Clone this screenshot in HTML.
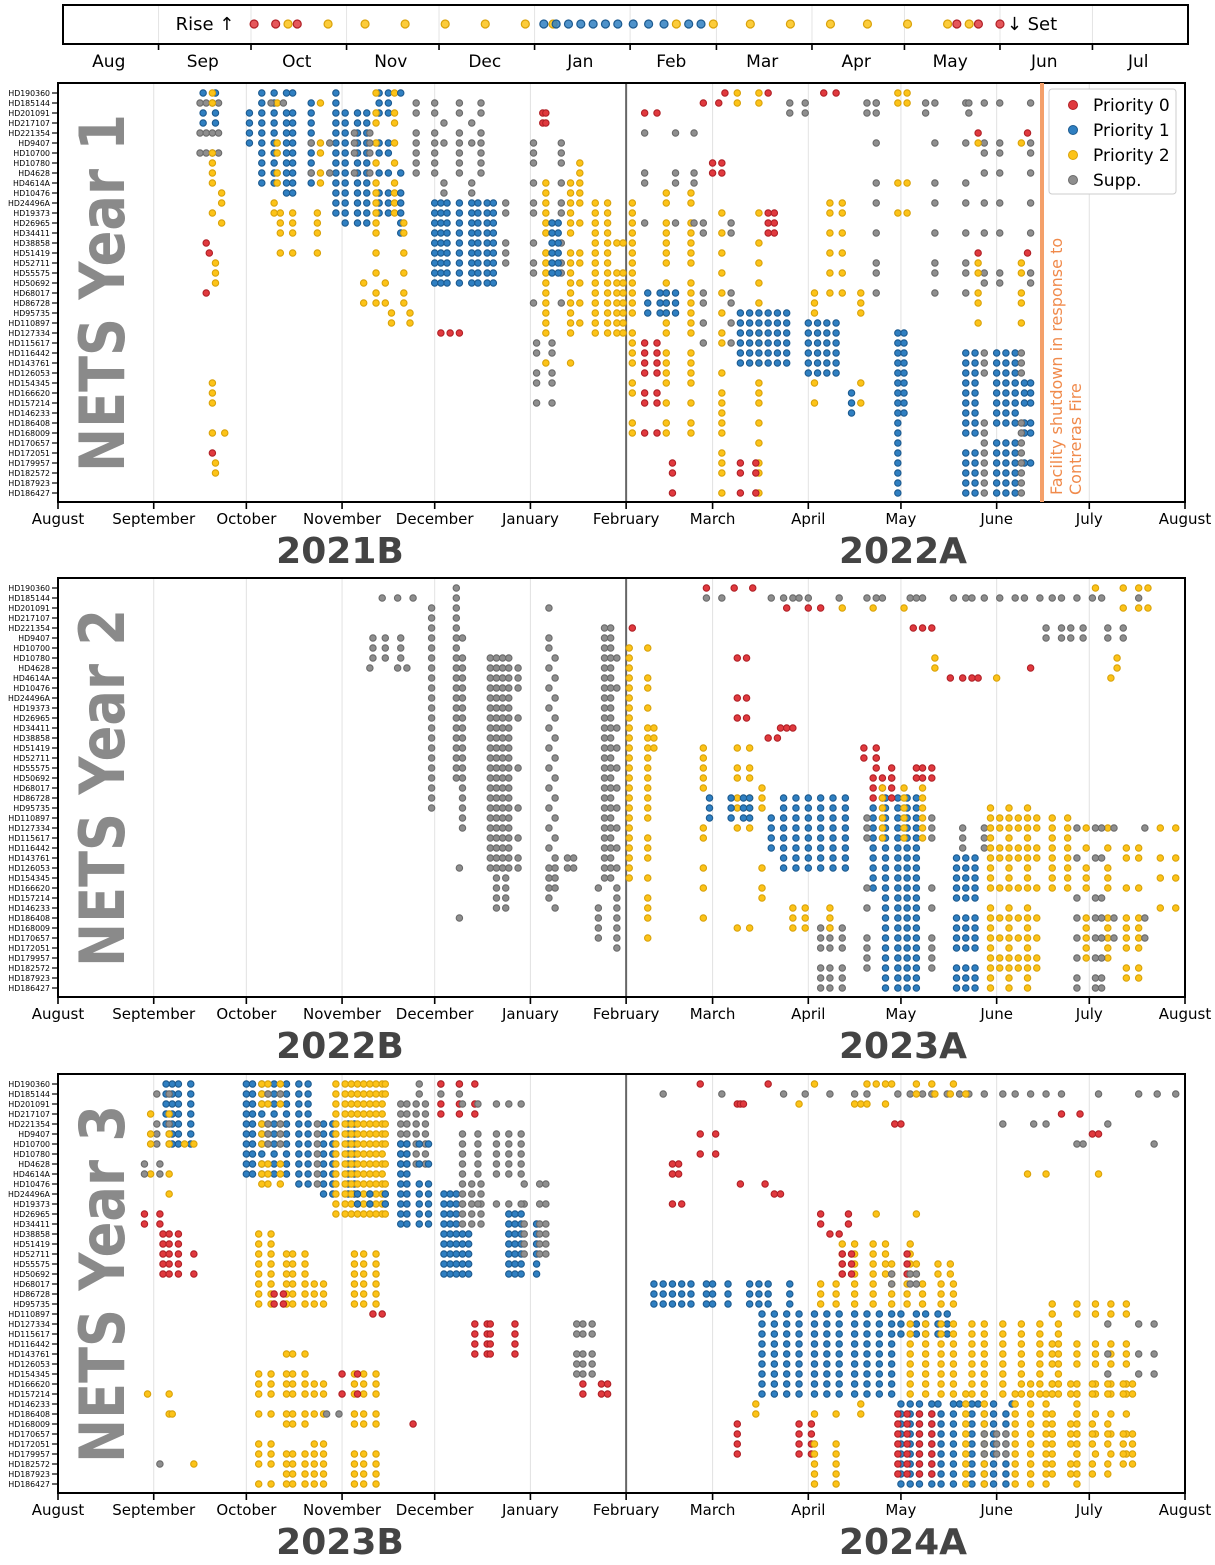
<!DOCTYPE html>
<html><head><meta charset="utf-8">
<style>
html,body{margin:0;padding:0;background:#fff;}
svg{display:block;font-family:"DejaVu Sans","Liberation Sans",sans-serif;}
</style></head>
<body>
<svg id="chart" width="1215" height="1565" viewBox="0 0 1215 1565" xmlns="http://www.w3.org/2000/svg"></svg>
<script>
// ---------- data ----------
const stars = ["HD190360","HD185144","HD201091","HD217107","HD221354","HD9407","HD10700","HD10780","HD4628","HD4614A","HD10476","HD24496A","HD19373","HD26965","HD34411","HD38858","HD51419","HD52711","HD55575","HD50692","HD68017","HD86728","HD95735","HD110897","HD127334","HD115617","HD116442","HD143761","HD126053","HD154345","HD166620","HD157214","HD146233","HD186408","HD168009","HD170657","HD172051","HD179957","HD182572","HD187923","HD186427"];
const axisMonths = ["August","September","October","November","December","January","February","March","April","May","June","July","August"];
const monthStartDays = [0,31,61,92,122,153,184,212,243,273,304,334,365];
const stripMonths = ["Aug","Sep","Oct","Nov","Dec","Jan","Feb","Mar","Apr","May","Jun","Jul"];
const panelTitles = ["NETS Year 1","NETS Year 2","NETS Year 3"];
const semesterLabels = [["2021B","2022A"],["2022B","2023A"],["2023B","2024A"]];
const priorityNames = ["Priority 0","Priority 1","Priority 2","Supp."];
// top strip: [day, priority]
const stripDots = [[62,0],[69,0],[73,2],[76,0],[86,2],[98,2],[111,2],[124,2],[137,2],[150,2],[156,1],[159,2],[160,1],[164,1],[168,1],[172,1],[176,1],[180,1],[185,1],[190,1],[195,1],[199,2],[203,1],[207,1],[211,2],[223,2],[236,2],[249,2],[261,2],[274,2],[287,2],[290,0],[294,2],[297,0],[304,0]];
// observation groups: [[rows],[days since Aug 1],priority]
const blocks1 = [
[[1,4,6],[46,48,50,52],3],[[0,2,3],[47,51],1],[[0,1,6,7,8,9,12],[50],2],[[10,11,13],[53],2],[[15,20],[48],0],[[16],[49],0],
[[17,18,19],[51],2],[[29,30,31,34],[50],2],[[34],[54],2],[[36],[50],0],[[37,38],[51],2],
[[0,1,2,3,4,5,6,7,8,9],[66,70],1],[[2,3,4,5],[62],1],[[0,2,3,4,5,6,7,8,9,10],[74,76],1],[[1,2,3,4,5,6,7,8,9],[82],1],
[[0,1,2,3,4,5,6,7,8,9,10,11,12],[90],1],[[1,5,6,8,9],[71,85],2],[[12,13,14,16],[72,76,84],2],[[11,12],[70],2],[[5,8],[82,88],3],[[1],[69,73],3],
[[2,3,4,5,6,7,8,9,10,11,12,13],[93,97,100],1],[[0,1,2,5,6,8,10,11,12],[104,107],1],[[0,2,3,5,7,9,10,11,12],[103,109],2],
[[0,8,10,11,12,13,14],[111],1],[[4,5,6,8],[96,101],3],[[13,14,16,18,20,21],[103,112],2],[[22,23],[108,114],2],[[19,21],[99,106],2],
[[1,2,4,5,6,7,8],[116,122,130,137],3],[[3,5,9,10],[125,134],3],[[11,12,15,16,17],[145],3],
[[11,12,13,14,15,16,17,18,19],[122,124,126,130,134,136,139,141],1],[[24],[124,127,130],0],
[[9,10,11,12,13,14,16,17,18,19,20,21,22,23,24,27],[158,166],2],[[11,12,13,14,15,16,17,18,19,20,21,22,23,24],[174,178],2],
[[15,18,19,20,21,22,23,24],[181,183],2],[[5,6,7,9,11,12,15,17,18,21],[154,163],3],[[2,3],[157,158],0],
[[7,8,9,10,11,13,16,17,19,21,23],[169],2],[[25,26,28,29,31],[155,160],3],[[13,14,15,16,17,18],[160,162],1],
[[11,12,13,14,15,16,17,18,19,20,21,22,24,25,26,27,29,30,33,34],[186],2],
[[10,11,13,14,15,16,17,19,20,21,22,23,24,26,27,28,29,31,33,34],[197,205],2],[[2,25,26,27,28,30,31,34],[190,194],0],
[[20,21,22],[191,195,197,200],1],[[4,8,9,13],[190,200,206],3],
[[12,14,16,18,20,22,24,25,28,30,31,32,33,34,36,37,38,40],[215],2],[[12,15,17,19,21,24,25,27,29,30,31,33,35,37,38,40],[227],2],
[[22,23,24,25,26,27],[221,224,227,230,233,236],1],[[13,14,20,21,23,25],[209,218],3],[[37,38,40],[199,221,226],0],[[7,8],[212,215],0],[[12,13,14],[230,232],0],
[[23,24,25,26,27,28],[243,246,249,252],1],[[20,21,22,29,31],[245,260],2],[[30,31,32],[257],1],[[11,12,14,16,18,20],[250,254],2],
[[24,25,26,27,28,29,30,31,32,33,34,35,36,37,38,39,40],[272],1],[[24,25,26,27,28,29,30,31,32],[274],1],[[0,1,9,12],[272,275],2],[[1,5,9,11,14,17,18,20],[265,284,294],3],
[[26,27,28,29,30,31,32,33,34,36,37,38,39,40],[294,297],1],[[26,27,28,29,30,31,32,33,35,36,37,38,39,40],[304,307,310],1],
[[29,30,31,33,34,37],[313,315],1],[[26,27,28,33,34,35,36,37,38,39,40],[300,312],3],[[1,5,6,8,11,14,18,19],[300,305,315],3],
[[5,17,18,20,21,23],[298,312],2],[[4,16],[298,314],0],
[[0],[216,230,248,252],0],[[0,1],[220,227],2],[[1,2],[237,242,262,265,281,295],3],[[1],[209,214],0]
];
const blocks2 = [
[[1],[105,110,115],3],[[5,6,7],[102,106,111],3],[[8],[101,110,113],3],
[[2,3,4,5,6,7,8,9,10,11,12,13,14,15,16,17,18,19,20,21,22],[121],3],
[[0,1,2,3,4,5,6,7,8,9,10,11,12,13,14,15,16,17,18,19],[129],3],[[5,7,8,9,10,11,12,13,14,15,16,17,18,19,20,21,22,23,24],[131],3],[[28,33],[130],3],
[[7,8,9,10,11,12,13,14,15,16,17,18,19,20,21,22,23,24,25,26,27,28],[140,142,144,146],3],[[8,9,10,13,18,22,25,27,28],[149],3],[[29,30,31,32],[142,145],3],
[[2,5,6,8,10,12,14,16,18,20,22,24,26,28,29,30,31],[159],3],[[7,9,11,13,15,17,19,21,23,25,27,28,29,30,32],[161],3],[[27,28],[165,167],3],
[[4,5,6,7,8,9,10,11,12,13,14,15,16,17,18,19,20,21,22,23,24,25,26,27,28,29],[177,179],3],[[7,10,14,16,18,20,22,24,26,28,30,31,32,33,34,35,36],[181],3],[[30,32,33,34,35],[175],3],
[[6,7,8,9,10,11,12,13,14,15,16,17,18,19,20,21,22,23,24,25,26,27,28,29],[185],2],[[6,9,10,12,14,15,16,17,18,19,20,21,22,23,25,26,27,29,31,32,33,35],[191],2],[[14,15,16],[193],2],[[4],[186],0],
[[16,17,18,19,20,24,25,28,30,33],[209],2],[[16,18,19,21,22,24,34],[220,224],2],[[21,22,23],[211,218,222,224],1],[[20,21,22,28,30,31],[228],2],
[[21,22,23,24,25,26,27,28],[235,239,243,247,251,255],1],[[23,24,25,26],[231],1],[[34,35,36,38,39,40],[247,250,254],3],[[32,33,34],[238,242,250],2],
[[21,22,23,24,25,26,27,28,29,30,31,32,33,34,35,36,37,38,39,40],[268,272,275,278],1],[[22,23,24,25,26,27,28,29,30],[264],1],[[19,20,21],[264,267,270],0],[[17,18],[265],0],
[[20,21,22,23,24,25],[267,274,280],2],[[23,24,25,30,32,35,36,37,38],[283,262],3],
[[27,28,29,30,31,33,34,35,36,38,39,40],[291,294,297],1],[[24,25,26],[293,300],3],
[[22,23,24,25,26,27,28,29,30,32,33,34,35,36,37,38,39,40],[302,308,314],2],[[23,24,26,27,30,33,35,37,38],[305,311,317],2],
[[23,24,25,26,27,28,29,30],[322,327],2],[[24,26,28,29,30,33,34,35,36,37],[333,340],2],[[24,27,31,33,35,37,39,40],[330,336,338],3],
[[26,27,30,33,34,35,36,38,39],[346,350],2],[[24,27,29,32],[357,362],2],[[24,33,35],[342,352],3],
[[1],[210,215,231,235,238,240,243,253,262,265,267,276,278,280,290,294,296,300,305,310,313,318,322,325,330,335,338,350],3],
[[0],[210,219,225],0],[[2],[236,243,247],0],[[2],[254,264,274],2],[[0,2],[345,350,353],2],[[0],[336],2],
[[4],[277,280,283],0],[[4,5],[320,325,328,332,340,345],3],[[7,8],[284,343],2],[[8],[315],0],[[9],[289,293,296,298],0],[[9],[304,341],2],
[[7,11,13],[220,223],0],[[14],[234,236,238],0],[[15],[230,233],0],[[16,17],[261,265],0],[[18,19],[278,280,283,270],0]
];
const blocks3 = [
[[0,1,2,3,4,5,6],[37,39,43],1],[[0,1,2,3,4],[35],1],[[1,4,5,6],[32,36],3],[[3,5,6,9],[30,36],2],[[8,9],[28,33],3],[[6],[41,44],2],[[11],[36],2],
[[13,14],[28,33],0],[[15,16,17,18,19],[34,36,39],0],[[17,19],[44],0],[[38],[33],3],[[38],[44],2],[[31],[29,36],2],[[33],[36,37],2],
[[0,1,2,3,4,5,6,7,8,9],[61,63,66,70,74],1],[[0,1,2,4,5,6,8,9,10],[66,68,72],2],[[1,4,5,6],[68,72],3],[[0,1,2,3,4,5,6,7,8,9,10],[78,81],1],
[[4,5,6,7,8,9,10,11],[86,89,94,96],1],[[4,5,6,7,8,9,10],[84],3],
[[0,1,2,3,4,5,6,7,8,9,10,11,12,13],[90,93,95,97,99,101,103,105],2],[[0,1,4,5,6,8,10,11,12,13],[106],2],[[11,12],[97,101,106],1],
[[2,3,4,5,6,7,8],[111,113,116,119],3],[[6,7,8,9,10,11,12,13,14],[111,113],1],[[6,8,10,11,12,13,14],[117,120],1],
[[11,12,13,14,15,16,17,18,19],[125,127,129],1],[[10,11,12,13,14],[131,134,137],3],[[15,16,17,18,19],[131,133],1],
[[13,14,15,16,17,18,19],[146,148,150],1],[[14,15,16,17,18,19],[155],1],[[10,12,14,15,16,17],[151,156,158],3],
[[0,1],[117,124,130],3],[[0,2,3],[124,130,135],0],[[2,5,6,7,8,9,12],[131,136,142,146,150],3],[[24,25,26,27],[135,139,140,148],0],
[[30,31],[170,176,178],0],[[24,25,27,28,29],[168,170,173],3],
[[15,16,17,18,19,20,21,22,29,30,31,33,36,37,38,40],[65,69],2],[[17,18,19,20,21,22,27,29,30,31,33,34,37,38,39,40],[74,76,80],2],
[[20,21,22,30,31,33,36,37,38,39,40],[83,86],2],[[17,18,19,20,21,22,29,30,31,33,34,37,38,39,40],[96,99,103],2],
[[21,22],[70,73],0],[[29,31],[92,97],0],[[23],[102,105],0],[[33],[87,91],3],[[34],[115],0],
[[0],[208,230],0],[[0],[245,262,265,268,270,278,283,290],2],
[[1],[196,215,235,242,250,258,262,272,276,280,283,288,292,295,300,306,310,315,320,325,337,350,356,362],3],[[1],[278,284,289,294],2],
[[2],[220,221,222],0],[[2],[240,258,260,262,268],2],[[3],[325,331],0],[[4],[271,273],0],[[4],[306,316,320,340],3],[[5,7],[208,213],0],
[[5],[335,337],0],[[6],[330,332,355],3],[[8,9],[199,201],0],[[9],[314,320,337],2],[[10],[221,229],0],[[11],[232,234],0],[[12],[199,202],0],
[[13,14],[247,256],0],[[13],[265,278],2],[[15],[250,253],0],
[[16,17,18,19],[254,258,264,268,276],2],[[17,18,19],[254,257,275],0],[[18,19],[270,278,285,289],2],
[[20,21,22],[193,196,199,202,205,210,212,217,224,227,230,237],1],[[20,21,22],[247,252,258,264,270,275,280,286,290],2],[[19,20],[270,276,278],3],
[[23,24,25,26,27,28,29,30,31],[228,232,236,240,245,249,253,258,262,266,270],1],[[23,24,25],[273,278,281,285,288],1],
[[24,25,26,27,28,29,30,31],[276,281,286,290,296,300,306,312,318,324],2],[[22,23,26,27,28,30,31,33,35,37],[322,330,336,341,346],2],[[24,27,29],[340,350,355],3],
[[32,33,34,35,36,37,38,39,40],[273,276,279,283,290,296],1],[[33,34,35,36,37,38,39,40],[286,300,303,307],1],[[32],[285,292,298,303,309],1],
[[33,34,35,36,37,38,39],[272,275,279,283],0],[[31,32,33,34,35,36,37,38,39,40],[294,300,310,315,320,330],2],
[[30,31,34,35,36,38,39],[315,322,328,335,340],2],[[30,31,35,36,37,38],[345,348],2],[[35,36,37],[300,304,307],3],
[[32,33],[260,226],2],[[34,35,36,37],[220,244,240],0],[[33,36,37,38,39,40],[245,252],2]
];
const blocksAll = [blocks1,blocks2,blocks3];

// ---------- geometry ----------
const svg = document.getElementById('chart');
const NS = "http://www.w3.org/2000/svg";
const colors = ["#e0393e","#2f7fc1","#fcc318","#8e8e8e"];
const strokes = ["#b02026","#1c5a8f","#d9a20a","#6a6a6a"];
const X0 = 58, X1 = 1185;
function xScale(d){ return X0 + d*(X1-X0)/365; }
const panelTops = [83,578,1074];
const PH = 419;
function el(tag, attrs, parent){
  const e = document.createElementNS(NS, tag);
  for (const k in attrs) e.setAttribute(k, attrs[k]);
  (parent||svg).appendChild(e);
  return e;
}

// ---------- top strip ----------
const strip = el('g',{});


el('rect',{x:63,y:5,width:1125,height:39,fill:'#fff',stroke:'#000','stroke-width':2},strip);
const SX0 = 63, SX1 = 1188;
function sx(d){ return SX0 + d*(SX1-SX0)/365; }
for (let i=1;i<12;i++){
  const x = sx(monthStartDays[i]);
  el('line',{x1:x,y1:6,x2:x,y2:43,stroke:'#e4e4e4','stroke-width':1},strip);
  el('line',{x1:x,y1:44,x2:x,y2:50,stroke:'#000','stroke-width':1.6},strip);
}
for (let i=0;i<12;i++){
  const t = el('text',{x:(sx(monthStartDays[i])+sx(monthStartDays[i+1]))/2-2,y:67,'font-size':17,'text-anchor':'middle',fill:'#000'},strip);
  t.textContent = stripMonths[i];
  
  
}
const rise = el('text',{x:205,y:30,'font-size':18,'text-anchor':'middle'},strip); rise.textContent='Rise ↑';
 
const set = el('text',{x:1032,y:30,'font-size':18,'text-anchor':'middle'},strip); set.textContent='↓ Set';
 
stripDots.forEach(function(s){
  const c = el('circle',{cx:sx(s[0]),cy:24,r:4,fill:colors[s[1]],stroke:strokes[s[1]],'stroke-width':1.2,'fill-opacity':0.85},strip);
  
  
});

// ---------- panels ----------
for (let p=0;p<3;p++){
  const top = panelTops[p];
  const g = el('g',{});
  
  
  for (let i=1;i<12;i++){
    const x = xScale(monthStartDays[i]);
    el('line',{x1:x,y1:top,x2:x,y2:top+PH,stroke:'#e2e2e2','stroke-width':1},g);
  }
  const tt = el('text',{x:0,y:0,'font-size':62,'font-weight':'bold',fill:'#8a8a8a','text-anchor':'middle',
    transform:'translate(124,'+(top+210)+') rotate(-90)',textLength:358,lengthAdjust:'spacingAndGlyphs'},g);
  tt.textContent = panelTitles[p];
  
  
  const fx = xScale(monthStartDays[6]);
  el('line',{x1:fx,y1:top,x2:fx,y2:top+PH,stroke:'#666','stroke-width':2},g);
  const rowY = function(r){ return top+10+r*10; };
  stars.forEach(function(s,r){
    const y = rowY(r);
    el('line',{x1:52,y1:y,x2:58,y2:y,stroke:'#000','stroke-width':1.2},g);
    const t = el('text',{x:50,y:y+2.8,'font-size':7.8,'text-anchor':'end',fill:'#000'},g);
    t.textContent = s;
    
    
  });
  const dg = el('g',{},g);
  
  
  blocksAll[p].forEach(function(b){
    b[0].forEach(function(r){
      b[1].forEach(function(d){
        const c = el('circle',{cx:xScale(d),cy:rowY(r),r:3.2,fill:colors[b[2]],stroke:strokes[b[2]],'stroke-width':1.1},dg);
        
        
      });
    });
  });
  el('rect',{x:X0,y:top,width:X1-X0,height:PH,fill:'none',stroke:'#000','stroke-width':2},g);
  for (let i=0;i<13;i++){
    const x = xScale(monthStartDays[i]);
    el('line',{x1:x,y1:top+PH,x2:x,y2:top+PH+7,stroke:'#000','stroke-width':1.6},g);
    const t = el('text',{x:x,y:top+PH+22,'font-size':15,'text-anchor':'middle',fill:'#000'},g);
    t.textContent = axisMonths[i];
    
    
  }
  const s1 = el('text',{x:340,y:top+PH+61,'font-size':36,'font-weight':'bold','text-anchor':'middle',fill:'#444'},g);
  s1.textContent = semesterLabels[p][0];
  
  
  const s2 = el('text',{x:903,y:top+PH+61,'font-size':36,'font-weight':'bold','text-anchor':'middle',fill:'#444'},g);
  s2.textContent = semesterLabels[p][1];
  
  

  if (p===0){
    const fl = el('line',{x1:1042,y1:top,x2:1042,y2:top+PH,stroke:'#f4a06a','stroke-width':4},g);
    
    
    const ft = el('text',{x:0,y:0,'font-size':16,fill:'#f08a4b',transform:'translate(1062,495) rotate(-90)'},g);
    ft.textContent='Facility shutdown in response to';
    
    
    const ft2 = el('text',{x:0,y:0,'font-size':16,fill:'#f08a4b',transform:'translate(1081,495) rotate(-90)'},g);
    ft2.textContent='Contreras Fire';
    
    
    const lg = el('g',{},g);
    
    
    el('rect',{x:1049,y:89,width:127,height:105,rx:3,fill:'#fff',stroke:'#ccc','stroke-width':1},lg);
    priorityNames.forEach(function(n,i){
      const y = 105+i*25;
      el('circle',{cx:1073,cy:y,r:4.5,fill:colors[i],stroke:strokes[i],'stroke-width':1},lg);
      const t = el('text',{x:1093,y:y+6,'font-size':17,fill:'#000'},lg);
      t.textContent = n;
      
      
    });
  }
}
</script>
</body></html>
